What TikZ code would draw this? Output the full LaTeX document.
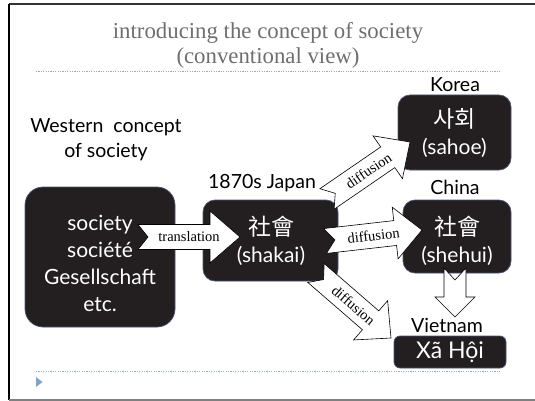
\documentclass[tikz,border=0pt]{standalone}
\usepackage{fontspec}
\setmainfont{Lato}
\newfontfamily\titlefont{Liberation Serif}
\newfontfamily\krfont{Noto Sans CJK KR}
\newfontfamily\tcfont{Noto Sans CJK TC}
\usetikzlibrary{calc}
\definecolor{boxfill}{HTML}{231F20}
\definecolor{boxedge}{HTML}{4A5570}
\definecolor{titlegray}{HTML}{6E6E6E}
\definecolor{dotblue}{HTML}{8FAEC8}
\definecolor{tri}{HTML}{7FA4C6}
\newcommand{\blockarr}[7]{%
  \coordinate (ba-h) at ($(#2)!#5!(#1)$);
  \coordinate (ba-n) at ($(#1)!#6!(#2)$);
  \draw[blockarrow] ($(#1)!#3!90:(#2)$) -- ($(ba-h)!#3!90:(#2)$) -- ($(ba-h)!#4!90:(#2)$)
    -- (#2) -- ($(ba-h)!#4!-90:(#2)$) -- ($(ba-h)!#3!-90:(#2)$) -- ($(#1)!#3!-90:(#2)$)
    -- (ba-n) -- cycle;
  \path (#1) -- (#2) node[midway, sloped, arrlabel] {#7};
}
\begin{document}
\begin{tikzpicture}[x=1pt,y=-1pt,
  darkbox/.style={draw=boxedge, line width=0.7pt, fill=boxfill, rounded corners=12pt, inner sep=0pt},
  boxtext/.style={text=white, align=center, font=\fontsize{21}{27}\selectfont},
  tag/.style={text=black, align=center, font=\fontsize{19.5}{25}\selectfont},
  blockarrow/.style={draw=black, fill=white, line width=0.6pt, line join=miter},
  arrlabel/.style={font=\titlefont\fontsize{14.5}{15}\selectfont, inner sep=0pt},
  dotline/.style={draw=dotblue, dash pattern=on 1.2pt off 1.2pt, line width=0.6pt}]
\useasboundingbox (0,0) rectangle (535,401);
% frame
\coordinate (fr-tl) at (9,4);
\coordinate (fr-tr) at (535,4);
\coordinate (fr-bl) at (9,400);
\coordinate (fr-br) at (535,400);
\draw[line width=2pt, draw=black!80] (fr-tl) -- (fr-tr);
\draw[line width=2.5pt, draw=black] (fr-tl) -- (fr-bl);
\draw[line width=1.5pt, draw=black!50] (fr-bl) -- (fr-br);
% title
\node[text=titlegray, align=center, font=\titlefont\fontsize{22.8}{25.5}\selectfont] (title) at (268,45.5)
  {introducing the concept of society\\(conventional view)};
\coordinate (dl1a) at (36,71); \coordinate (dl1b) at (500,71);
\coordinate (dl2a) at (36,371); \coordinate (dl2b) at (500,371);
\draw[dotline] (dl1a) -- (dl1b);
\draw[dotline] (dl2a) -- (dl2b);
\fill[tri] (36,377) -- (42.5,382) -- (36,387) -- cycle;
% boxes
\node[darkbox, rounded corners=18pt, minimum width=150pt, minimum height=140pt] (west) at (100,257) {};
\node[boxtext] (westtext) at (100,263) {society\\société\\Gesellschaft\\etc.};
\node[darkbox, minimum width=135pt, minimum height=81pt] (japan) at (270.5,240.5) {};
\node[boxtext] (japantext) at (271,240.5) {{\tcfont\fontsize{23}{29}\selectfont 社會}\\(shakai)};
\node[darkbox, minimum width=113pt, minimum height=75pt] (korea) at (454.5,132.5) {};
\node[boxtext] (koreatext) at (454.5,133.5) {{\krfont\fontsize{23}{28}\selectfont 사회}\\(sahoe)};
\node[darkbox, minimum width=108pt, minimum height=73pt] (china) at (457,236.5) {};
\node[boxtext] (chinatext) at (457,240.5) {{\tcfont\fontsize{23}{29}\selectfont 社會}\\(shehui)};
% tags
\node[tag] (westtag) at (106,140) {Western\ \ concept\\of society};
\node[tag] (japtag) at (262,183) {1870s Japan};
\node[tag] (kortag) at (455,85) {Korea};
\node[tag] (chntag) at (455,187) {China};
\node[tag] (viettag) at (447,325) {Vietnam};
% arrows
\coordinate (tr-a) at (138,237); \coordinate (tr-b) at (240,237);
\blockarr{tr-a}{tr-b}{12.5pt}{26pt}{30pt}{10pt}{translation}
\coordinate (dk-a) at (327,199); \coordinate (dk-b) at (410,142);
\blockarr{dk-a}{dk-b}{12.5pt}{26pt}{27pt}{10pt}{diffusion}
\coordinate (dc-a) at (325,241); \coordinate (dc-b) at (422,230);
\blockarr{dc-a}{dc-b}{12.5pt}{26pt}{27pt}{10pt}{diffusion}
\coordinate (dv-a) at (316,273); \coordinate (dv-b) at (391,338);
\blockarr{dv-a}{dv-b}{12.5pt}{26pt}{27pt}{10pt}{diffusion}
\coordinate (cv-a) at (455,268); \coordinate (cv-b) at (455,317);
\blockarr{cv-a}{cv-b}{11pt}{20pt}{20pt}{12pt}{}
% Vietnam box on top
\node[darkbox, rounded corners=6pt, minimum width=112pt, minimum height=32pt] (viet) at (450,352) {};
\node[boxtext, font=\fontsize{23}{27}\selectfont] (viettext) at (450,352) {Xã Hội};
\end{tikzpicture}
\end{document}
